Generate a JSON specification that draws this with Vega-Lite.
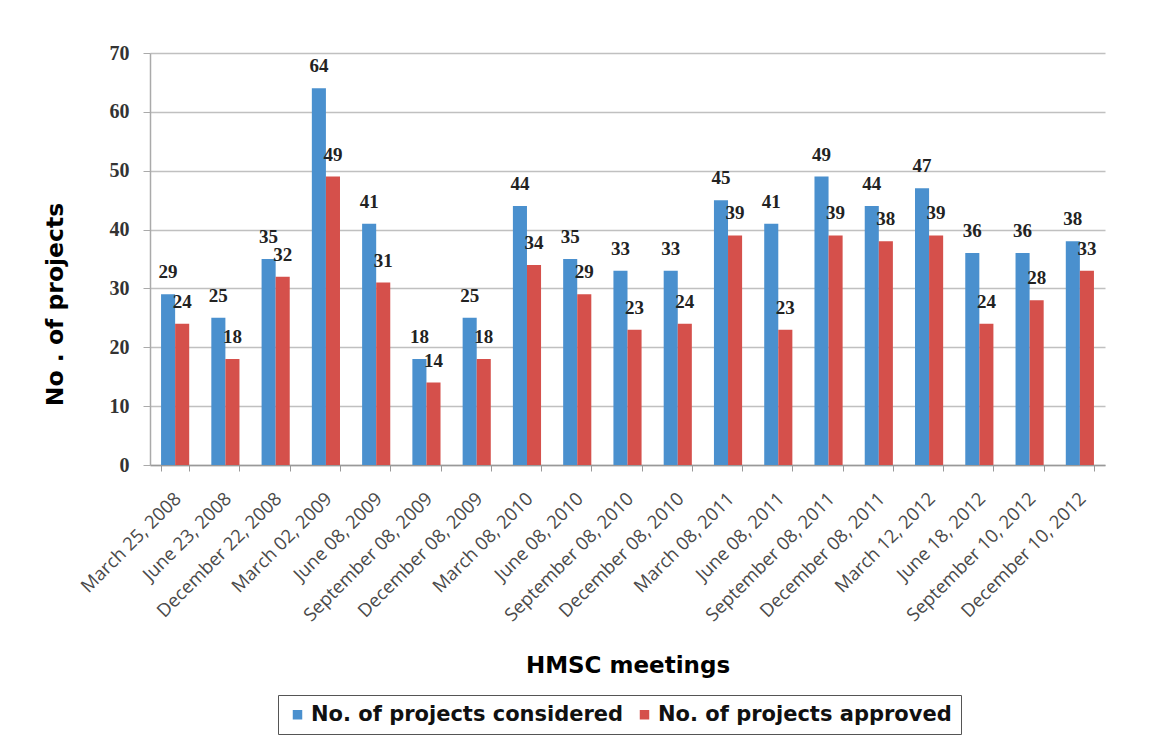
{
  "$schema": "https://vega.github.io/schema/vega-lite/v6.json",
  "autosize": {"type": "none"},
  "width": 955,
  "height": 412,
  "padding": {"left": 150, "top": 53, "right": 48, "bottom": 284},
  "background": "white",
  "config": {"view": {"stroke": null}},
  "data": {"values": [
    {"meeting": "March 25, 2008", "series": "No. of projects considered", "value": 29},
    {"meeting": "March 25, 2008", "series": "No. of projects approved", "value": 24},
    {"meeting": "June 23, 2008", "series": "No. of projects considered", "value": 25},
    {"meeting": "June 23, 2008", "series": "No. of projects approved", "value": 18},
    {"meeting": "December 22, 2008", "series": "No. of projects considered", "value": 35},
    {"meeting": "December 22, 2008", "series": "No. of projects approved", "value": 32},
    {"meeting": "March 02, 2009", "series": "No. of projects considered", "value": 64},
    {"meeting": "March 02, 2009", "series": "No. of projects approved", "value": 49},
    {"meeting": "June 08, 2009", "series": "No. of projects considered", "value": 41},
    {"meeting": "June 08, 2009", "series": "No. of projects approved", "value": 31},
    {"meeting": "September 08, 2009", "series": "No. of projects considered", "value": 18},
    {"meeting": "September 08, 2009", "series": "No. of projects approved", "value": 14},
    {"meeting": "December 08, 2009", "series": "No. of projects considered", "value": 25},
    {"meeting": "December 08, 2009", "series": "No. of projects approved", "value": 18},
    {"meeting": "March 08, 2010", "series": "No. of projects considered", "value": 44},
    {"meeting": "March 08, 2010", "series": "No. of projects approved", "value": 34},
    {"meeting": "June 08, 2010", "series": "No. of projects considered", "value": 35},
    {"meeting": "June 08, 2010", "series": "No. of projects approved", "value": 29},
    {"meeting": "September 08, 2010", "series": "No. of projects considered", "value": 33},
    {"meeting": "September 08, 2010", "series": "No. of projects approved", "value": 23},
    {"meeting": "December 08, 2010", "series": "No. of projects considered", "value": 33},
    {"meeting": "December 08, 2010", "series": "No. of projects approved", "value": 24},
    {"meeting": "March 08, 2011", "series": "No. of projects considered", "value": 45},
    {"meeting": "March 08, 2011", "series": "No. of projects approved", "value": 39},
    {"meeting": "June 08, 2011", "series": "No. of projects considered", "value": 41},
    {"meeting": "June 08, 2011", "series": "No. of projects approved", "value": 23},
    {"meeting": "September 08, 2011", "series": "No. of projects considered", "value": 49},
    {"meeting": "September 08, 2011", "series": "No. of projects approved", "value": 39},
    {"meeting": "December 08, 2011", "series": "No. of projects considered", "value": 44},
    {"meeting": "December 08, 2011", "series": "No. of projects approved", "value": 38},
    {"meeting": "March 12, 2012", "series": "No. of projects considered", "value": 47},
    {"meeting": "March 12, 2012", "series": "No. of projects approved", "value": 39},
    {"meeting": "June 18, 2012", "series": "No. of projects considered", "value": 36},
    {"meeting": "June 18, 2012", "series": "No. of projects approved", "value": 24},
    {"meeting": "September 10, 2012", "series": "No. of projects considered", "value": 36},
    {"meeting": "September 10, 2012", "series": "No. of projects approved", "value": 28},
    {"meeting": "December 10, 2012", "series": "No. of projects considered", "value": 38},
    {"meeting": "December 10, 2012", "series": "No. of projects approved", "value": 33}
  ]},
  "encoding": {
    "x": {
      "field": "meeting", "type": "nominal", "sort": null,
      "scale": {"paddingInner": 0.44, "paddingOuter": 0.22},
      "axis": {
        "title": "HMSC meetings",
        "titleFont": "DejaVu Sans", "titleFontSize": 23, "titleFontWeight": "bold", "titleColor": "#000",
        "titleY": 200, "titleBaseline": "middle",
        "labelAngle": -45, "labelAlign": "right", "labelBaseline": "top",
        "labelFont": "Open Sans", "labelFontSize": 18.5, "labelColor": "#4a4a4a",
        "labelPadding": 18, "labelOffset": -4,
        "tickBand": "extent", "tickSize": 6, "tickColor": "#999", "domainColor": "#999", "domainWidth": 1.5,
        "grid": false
      }
    },
    "xOffset": {"field": "series", "type": "nominal", "sort": ["No. of projects considered", "No. of projects approved"], "scale": {"paddingInner": 0, "paddingOuter": 0}},
    "y": {
      "field": "value", "type": "quantitative",
      "scale": {"domain": [0, 70], "nice": false},
      "axis": {
        "title": "No . of projects",
        "titleFont": "DejaVu Sans", "titleFontSize": 23.5, "titleFontWeight": "bold", "titleColor": "#000",
        "titleX": -95, "titleY": 251, "titleBaseline": "middle", "titleAngle": -90,
        "values": [0, 10, 20, 30, 40, 50, 60, 70],
        "labelFont": "Liberation Serif", "labelFontSize": 20, "labelFontWeight": "bold", "labelColor": "#333",
        "labelPadding": 14, "tickSize": 7, "tickColor": "#aaa",
        "domainColor": "#aaa", "domainWidth": 1.5,
        "grid": true, "gridColor": "#C0C0C0", "gridWidth": 1.5
      }
    }
  },
  "layer": [
    {
      "mark": {"type": "bar"},
      "encoding": {
        "color": {
          "field": "series", "type": "nominal",
          "sort": ["No. of projects considered", "No. of projects approved"],
          "scale": {"domain": ["No. of projects considered", "No. of projects approved"], "range": ["#4A90CE", "#D5504B"]},
          "legend": {
            "title": null, "orient": "none", "direction": "horizontal",
            "legendX": 128, "legendY": 642,
            "strokeColor": "#555", "padding": 9,
            "symbolType": "square", "symbolSize": 90, "symbolStrokeWidth": 0,
            "labelFont": "DejaVu Sans", "labelFontSize": 21, "labelFontWeight": "bold", "labelColor": "#111",
            "labelLimit": 500, "columnPadding": 10, "labelOffset": 3, "symbolOffset": 0
          }
        }
      }
    },
    {
      "mark": {"type": "text", "baseline": "middle", "dy": -22, "font": "Liberation Serif", "fontSize": 19, "fontWeight": "bold", "color": "#222"},
      "encoding": {"text": {"field": "value", "type": "quantitative"}}
    }
  ]
}
